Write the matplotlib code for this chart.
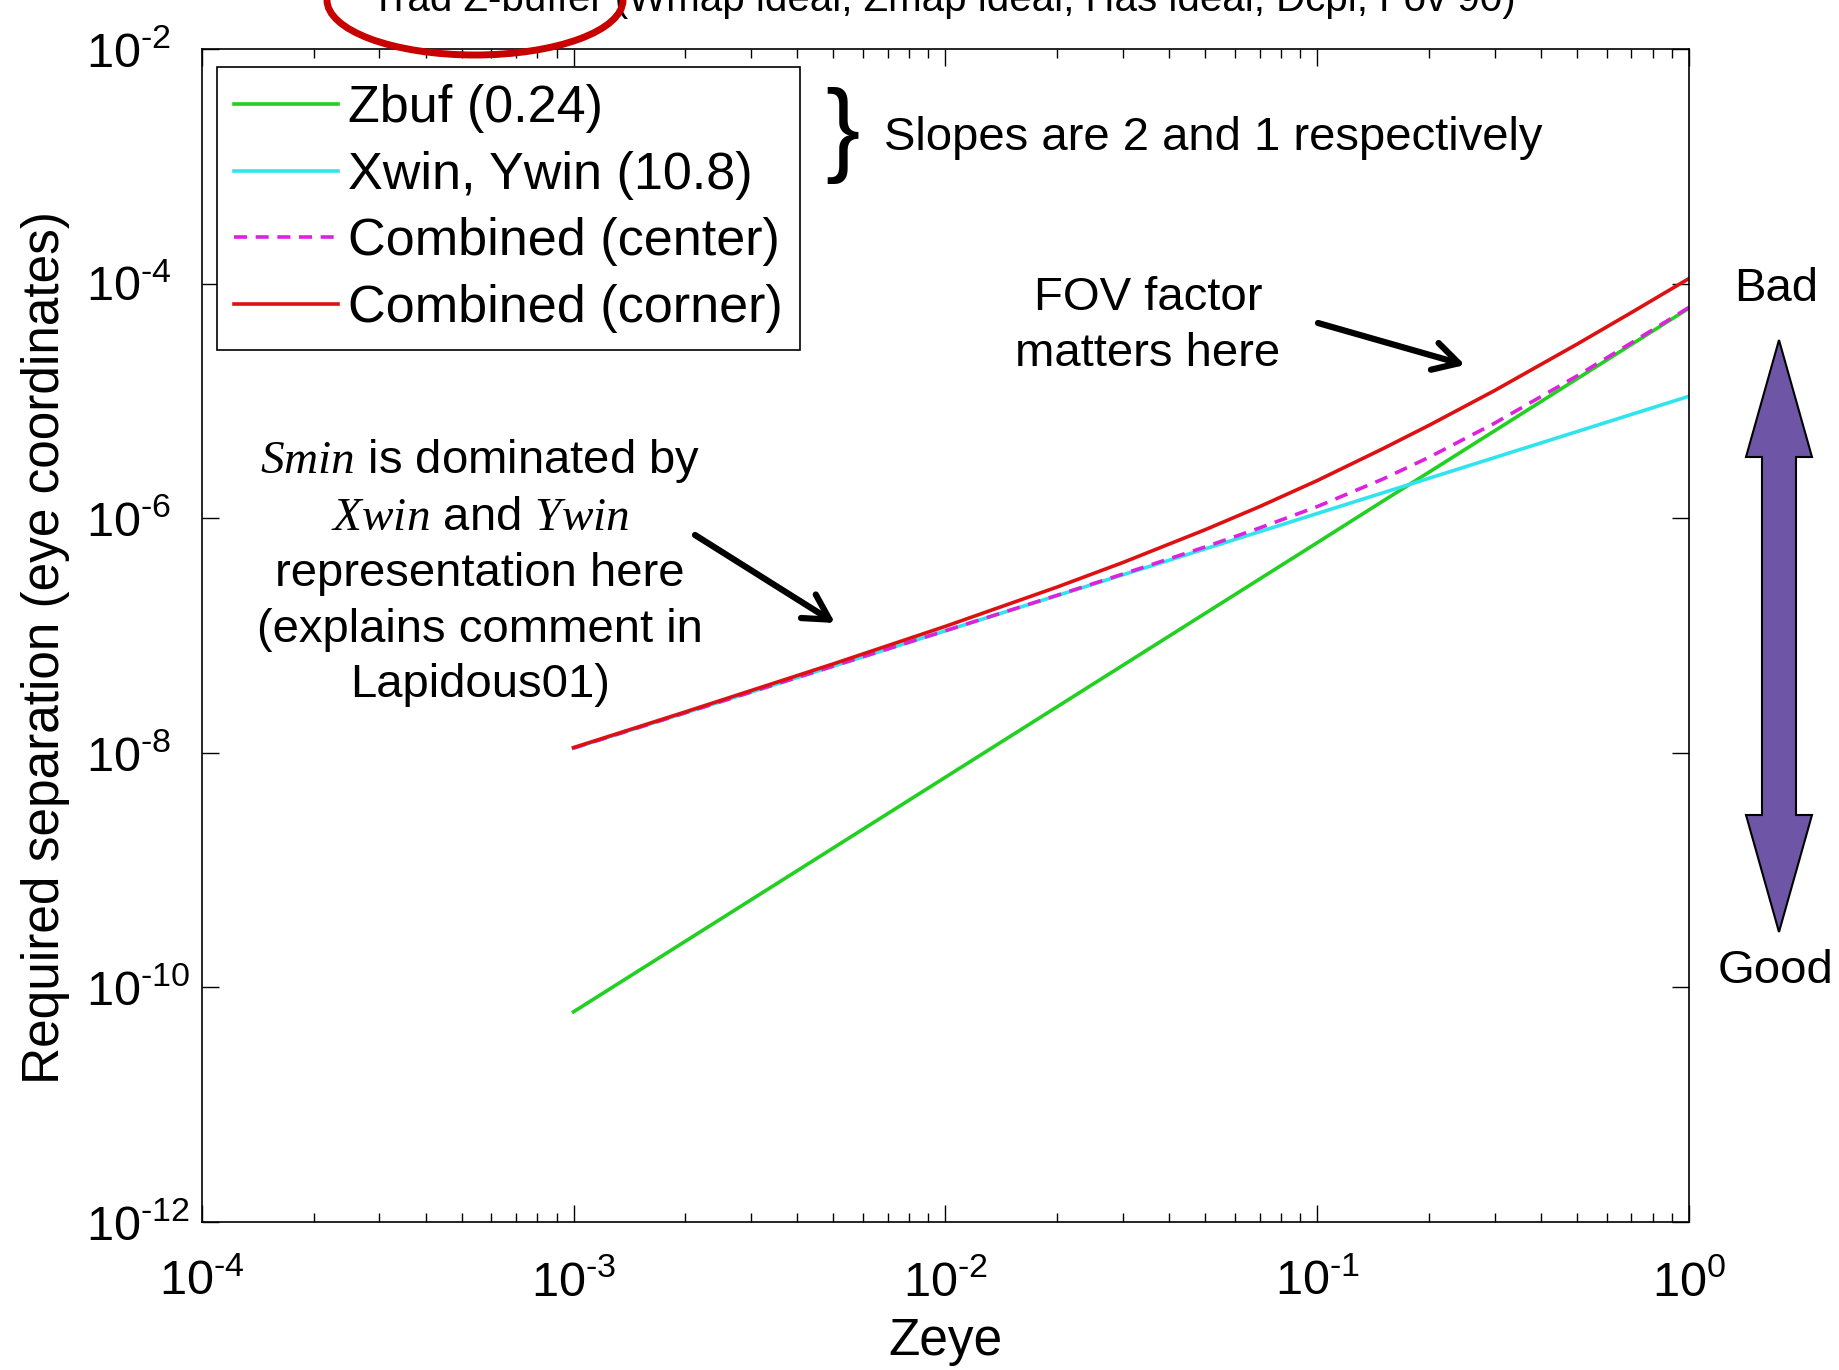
import matplotlib
matplotlib.use('Agg')
import matplotlib.pyplot as plt
from matplotlib.patches import Ellipse, Polygon, FancyArrowPatch
from matplotlib.ticker import LogLocator, NullLocator, NullFormatter

# values (log-log)
zeye = [1e-3, 2e-3, 5e-3, 1e-2, 2e-2, 3e-2, 5e-2, 0.07, 0.1, 0.15, 0.2, 0.3, 0.5, 0.7, 1.0]
zbuf = [6.2e-11, 2.48e-10, 1.55e-9, 6.2e-9, 2.48e-8, 5.58e-8, 1.55e-7, 3.04e-7, 6.2e-7,
        1.40e-6, 2.48e-6, 5.58e-6, 1.55e-5, 3.04e-5, 6.2e-5]
xwin = [1.10e-8, 2.20e-8, 5.50e-8, 1.10e-7, 2.20e-7, 3.30e-7, 5.50e-7, 7.70e-7, 1.10e-6,
        1.65e-6, 2.20e-6, 3.30e-6, 5.50e-6, 7.70e-6, 1.10e-5]
comb_center = [1.10e-8, 2.20e-8, 5.50e-8, 1.10e-7, 2.21e-7, 3.35e-7, 5.71e-7, 8.28e-7, 1.26e-6,
               2.16e-6, 3.32e-6, 6.48e-6, 1.64e-5, 3.14e-5, 6.30e-5]
comb_corner = [1.11e-8, 2.24e-8, 5.75e-8, 1.20e-7, 2.60e-7, 4.20e-7, 8.01e-7, 1.26e-6, 2.10e-6,
               3.92e-6, 6.22e-6, 1.23e-5, 3.06e-5, 5.69e-5, 1.11e-4]

labels = ['Zbuf (0.24)', 'Xwin, Ywin (10.8)', 'Combined (center)', 'Combined (corner)']
xticks = [1e-4, 1e-3, 1e-2, 1e-1, 1e0]
xexp = ['-4', '-3', '-2', '-1', '0']
yticks = [1e-12, 1e-10, 1e-8, 1e-6, 1e-4, 1e-2]
yexp = ['-12', '-10', '-8', '-6', '-4', '-2']

plt.rcParams['font.family'] = ['Liberation Sans', 'DejaVu Sans']
plt.rcParams['mathtext.fontset'] = 'custom'
plt.rcParams['mathtext.rm'] = 'Liberation Sans'
plt.rcParams['mathtext.it'] = 'Liberation Serif:italic'
plt.rcParams['mathtext.bf'] = 'Liberation Sans:bold'

W, H = 1839, 1370


def fig_xy(px, py):
    # pixel position (top-left origin) -> figure fraction
    return px / W, 1 - py / H


def power_label(e):
    # MATLAB-style exponent with a short hyphen
    return r'$\mathdefault{10^{%s}}$' % e.replace('-', '\u2010')


fig = plt.figure(figsize=(W / 100, H / 100), dpi=100, facecolor='white')
ax = fig.add_axes([201.7 / W, 1 - 1222 / H, (1689 - 201.7) / W, (1222 - 49.3) / H])

ax.plot(zeye, zbuf, color='#22D022', lw=2.6, label=labels[0])
ax.plot(zeye, xwin, color='#30E4EE', lw=2.6, label=labels[1])
ax.plot(zeye, comb_center, color='#DD22DD', lw=2.6, dashes=(3.6, 2.4), label=labels[2])
ax.plot(zeye, comb_corner, color='#DD1111', lw=2.6, label=labels[3])

ax.set_xscale('log')
ax.set_yscale('log')
ax.set_xlim(1e-4, 1)
ax.set_ylim(1e-12, 1e-2)
ax.set_xticks(xticks)
ax.set_xticklabels([power_label(e) for e in xexp])
ax.xaxis.set_minor_locator(LogLocator(base=10, subs=range(2, 10)))
ax.xaxis.set_minor_formatter(NullFormatter())
ax.set_yticks(yticks)
ax.set_yticklabels([power_label(e) for e in yexp], ha='left')
ax.yaxis.set_minor_locator(NullLocator())
ax.tick_params(which='both', direction='in', top=True, right=True, width=1)
ax.tick_params(which='major', length=12, labelsize=35)
ax.tick_params(which='minor', length=6.5)
ax.tick_params(axis='x', pad=27)
ax.tick_params(axis='y', pad=83)
for s in ax.spines.values():
    s.set_linewidth(1.2)

ax.set_xlabel('Zeye', fontsize=37, labelpad=8)
ax.set_ylabel('Required separation (eye coordinates)', fontsize=37, labelpad=12)
ax.yaxis.label.set_y(0.49)

leg = ax.legend(loc='upper left', bbox_to_anchor=(0.0103, 0.985), borderaxespad=0,
                fontsize=37.5, frameon=True, fancybox=False, framealpha=1, edgecolor='black',
                handlelength=2.0, handletextpad=0.18, labelspacing=0.34, borderpad=0.33)
leg.get_frame().set_linewidth(1.2)

# cropped title at the very top
x, y = fig_xy(943, 11)
fig.text(x, y, 'Trad Z-buffer (Wmap ideal, Zmap ideal, Has ideal, Dcpi, Fov 90)',
         ha='center', va='baseline', fontsize=29)

# annotations
x, y = fig_xy(842, 135)
fig.text(x, y, '}', ha='center', va='center', fontsize=74)
x, y = fig_xy(884, 138)
fig.text(x, y, 'Slopes are 2 and 1 respectively', ha='left', va='center', fontsize=34)

x, y = fig_xy(1148, 326)
fig.text(x, y, 'FOV factor\nmatters here', ha='center', va='center', fontsize=34,
         multialignment='center', linespacing=1.34)

x, y = fig_xy(480, 572)
fig.text(x, y, '$Smin$ is dominated by\n$Xwin$ and $Ywin$\nrepresentation here\n'
         '(explains comment in\nLapidous01)', ha='center', va='center', fontsize=34,
         multialignment='center', linespacing=1.34)

arrow = dict(arrowstyle='->,head_length=0.45,head_width=0.25', lw=4.5, color='black',
             shrinkA=0, shrinkB=0, mutation_scale=40)
fig.add_artist(FancyArrowPatch(fig_xy(1318, 323), fig_xy(1465, 365),
                               transform=fig.transFigure, **arrow))
fig.add_artist(FancyArrowPatch(fig_xy(695, 535), fig_xy(835, 623),
                               transform=fig.transFigure, **arrow))

x, y = fig_xy(1776, 289)
fig.text(x, y, 'Bad', ha='center', va='center', fontsize=34)
x, y = fig_xy(1776, 971)
fig.text(x, y, 'Good', ha='center', va='center', fontsize=34)

# purple double arrow
cx = 1779
pts = [(cx, 340), (cx + 33, 457), (cx + 17, 457), (cx + 17, 815), (cx + 33, 815), (cx, 932),
       (cx - 33, 815), (cx - 17, 815), (cx - 17, 457), (cx - 33, 457)]
fig.add_artist(Polygon([fig_xy(px, py) for px, py in pts], closed=True, transform=fig.transFigure,
                       facecolor='#6E55A6', edgecolor='black', lw=1.5))

# red ellipse highlight
cx_, cy_ = fig_xy(475, 0)
fig.add_artist(Ellipse((cx_, cy_), width=296 / W, height=110 / H, transform=fig.transFigure,
                       fill=False, edgecolor='#C80000', lw=5, zorder=10))

plt.savefig('out.png', dpi=100, facecolor='white')
